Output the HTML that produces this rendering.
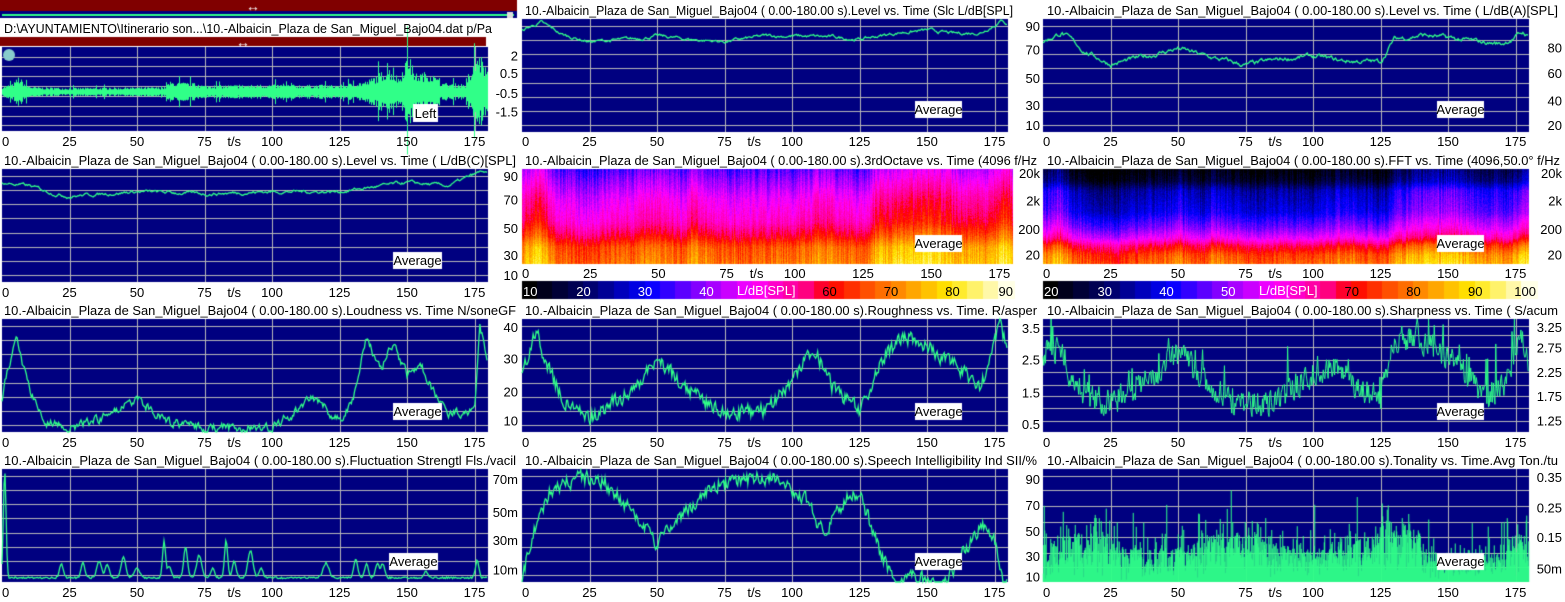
<!DOCTYPE html>
<html><head><meta charset="utf-8"><style>
html,body{margin:0;padding:0;background:#fff;width:1565px;height:602px;overflow:hidden}
#c{position:absolute;left:0;top:0}
#s{position:absolute;left:0;top:0}
text{font-family:"Liberation Sans",Arial,sans-serif;font-size:13px;fill:#000}
</style></head><body>
<canvas id="c" width="1565" height="602"></canvas>
<svg id="s" width="1565" height="602" xmlns="http://www.w3.org/2000/svg">
<g id="txt"></g>
<text x="4" y="33" textLength="488" lengthAdjust="spacingAndGlyphs">D:\AYUNTAMIENTO\Itinerario son...\10.-Albaicin_Plaza de San_Miguel_Bajo04.dat  p/Pa</text>
<text x="525" y="15" textLength="488" lengthAdjust="spacingAndGlyphs">10.-Albaicin_Plaza de San_Miguel_Bajo04 ( 0.00-180.00 s).Level vs. Time (Slc L/dB[SPL]</text>
<text x="1047" y="15" textLength="511" lengthAdjust="spacingAndGlyphs">10.-Albaicin_Plaza de San_Miguel_Bajo04 ( 0.00-180.00 s).Level vs. Time ( L/dB(A)[SPL]</text>
<text x="4" y="165" textLength="512" lengthAdjust="spacingAndGlyphs">10.-Albaicin_Plaza de San_Miguel_Bajo04 ( 0.00-180.00 s).Level vs. Time ( L/dB(C)[SPL]</text>
<text x="525" y="165" textLength="512" lengthAdjust="spacingAndGlyphs">10.-Albaicin_Plaza de San_Miguel_Bajo04 ( 0.00-180.00 s).3rdOctave vs. Time (4096 f/Hz</text>
<text x="1047" y="165" textLength="513" lengthAdjust="spacingAndGlyphs">10.-Albaicin_Plaza de San_Miguel_Bajo04 ( 0.00-180.00 s).FFT vs. Time (4096,50.0° f/Hz</text>
<text x="4" y="315" textLength="512" lengthAdjust="spacingAndGlyphs">10.-Albaicin_Plaza de San_Miguel_Bajo04 ( 0.00-180.00 s).Loudness vs. Time N/soneGF</text>
<text x="525" y="315" textLength="512" lengthAdjust="spacingAndGlyphs">10.-Albaicin_Plaza de San_Miguel_Bajo04 ( 0.00-180.00 s).Roughness vs. Time. R/asper</text>
<text x="1047" y="315" textLength="511" lengthAdjust="spacingAndGlyphs">10.-Albaicin_Plaza de San_Miguel_Bajo04 ( 0.00-180.00 s).Sharpness vs. Time ( S/acum</text>
<text x="4" y="465" textLength="512" lengthAdjust="spacingAndGlyphs">10.-Albaicin_Plaza de San_Miguel_Bajo04 ( 0.00-180.00 s).Fluctuation Strengtl Fls./vacil</text>
<text x="525" y="465" textLength="512" lengthAdjust="spacingAndGlyphs">10.-Albaicin_Plaza de San_Miguel_Bajo04 ( 0.00-180.00 s).Speech Intelligibility Ind SII/%</text>
<text x="1047" y="465" textLength="511" lengthAdjust="spacingAndGlyphs">10.-Albaicin_Plaza de San_Miguel_Bajo04 ( 0.00-180.00 s).Tonality vs. Time.Avg  Ton./tu</text>
<text x="737" y="295" style="fill:#fff">L/dB[SPL]</text>
<text x="1259" y="295" style="fill:#fff">L/dB[SPL]</text>
</svg>
<script>
var cv=document.getElementById('c'),g=cv.getContext('2d');
var seed=7;function R(){seed=(seed*16807)%2147483647;return seed/2147483647;}
var T=document.getElementById('txt'),NS='http://www.w3.org/2000/svg';
function tx(x,y,s,anc,col){var e=document.createElementNS(NS,'text');e.setAttribute('x',x);e.setAttribute('y',y);if(anc)e.setAttribute('text-anchor',anc);if(col)e.setAttribute('style','fill:'+col);e.textContent=s;T.appendChild(e);}
function box(x,y,w,h,s){g.fillStyle='#fff';g.fillRect(x,y,w,h);tx(x+w/2,y+h-4,s,'middle');}
var GREEN='#30ff88';
function interp(keys,t){for(var i=0;i<keys.length-1;i++){if(t<=keys[i+1][0]){var a=keys[i],b=keys[i+1];var f=(t-a[0])/(b[0]-a[0]||1);return a[1]+(b[1]-a[1])*f;}}return keys[keys.length-1][1];}
function series(keys,noise,n,sm){var out=[],ar=0;for(var i=0;i<n;i++){ar=ar*sm+(R()-0.5)*noise;out.push(interp(keys,i*180/n)+ar);}return out;}
function frame(x,y,w,h){g.fillStyle='#000080';g.fillRect(x,y,w,h);}
function grid(x,y,w,h,hl){g.strokeStyle='#b8b8b8';g.lineWidth=1;g.beginPath();
 for(var t=25;t<180;t+=25){var px=Math.round(x+t*w/180)+0.5;g.moveTo(px,y);g.lineTo(px,y+h);}
 hl.forEach(function(f){var py=Math.round(y+f*h)+0.5;g.moveTo(x,py);g.lineTo(x+w,py);});g.stroke();}
function xt(x,y,w){for(var t=0;t<180;t+=25){tx(x+t*w/180,y,''+t,t==0?'start':'middle');}tx(x+86*w/180,y,'t/s','middle');}
function yl(xr,y,h,labs){labs.forEach(function(l){tx(xr,y+l[1]*h+5,l[0],'end');});}
function line(x,y,w,h,d,lw){g.strokeStyle=GREEN;g.lineWidth=lw||1.3;g.beginPath();for(var i=0;i<d.length;i++){var px=x+i*w/d.length,py=y+(1-Math.max(0,Math.min(1,d[i])))*h;i?g.lineTo(px,py):g.moveTo(px,py);}g.stroke();}
var W=486,CX=[2,522,1043];
function even(n,a,b){var r=[];for(var i=0;i<n;i++)r.push(a+(b-a)*i/(n-1));return r;}
var hl8=even(8,0.06,0.94);
g.fillStyle='#800000';g.fillRect(0,0,517,11);g.fillRect(0,37,486,9);
g.fillStyle='#000080';g.fillRect(0,11,517,7);g.fillStyle=GREEN;g.fillRect(2,14,512,2);
g.fillStyle='#ddd';g.fillRect(507,12,6,6);
g.fillStyle='#fff';g.font='14px sans-serif';g.fillText('\u2194',246,11);g.fillText('\u2194',236,47);
(function(){var x=2,y=47,h=84;frame(x,y,W,h);grid(x,y,W,h,[0.12,0.23,0.34,0.46,0.58,0.7,0.82,0.93]);
 var env=[[0,.14],[4,.2],[6,.38],[9,.17],[12,.12],[25,.1],[60,.12],[62,.25],[70,.22],[75,.16],[100,.18],[125,.17],[135,.27],[143,.6],[147,.35],[150,.95],[153,.45],[158,.5],[163,.22],[172,.2],[176,.95],[180,.5]];
 g.strokeStyle=GREEN;g.lineWidth=1;g.beginPath();var cy=y+45;for(var i=0;i<W;i++){var a=interp(env,i*180/W)*(0.5+0.5*R())*42;if(R()<0.06)a*=1.7;g.moveTo(x+i+0.5,cy-a);g.lineTo(x+i+0.5,cy+a*0.95);}g.stroke();
 g.fillStyle='#8cc';g.beginPath();g.arc(9,55,6,0,7);g.fill();
 box(413,104,25,18,'Left');xt(2,146,W);yl(518,y,h,[['2',0.1],['0.5',0.31],['-0.5',0.55],['-1.5',0.77]]);})();
(function(){var x=CX[1],y=19,h=113;frame(x,y,W,h);grid(x,y,W,h,hl8);
 line(x,y,W,h,series([[0,.9],[7,.97],[15,.86],[25,.8],[40,.82],[50,.85],[62,.82],[75,.8],[90,.85],[100,.85],[115,.84],[125,.82],[140,.88],[150,.9],[160,.87],[170,.88],[178,.99],[180,.95]],0.02,480,0.8));
 box(915,101,47,17,'Average');xt(x,146,W);yl(1040,y,h,[['90',0.06],['70',0.27],['50',0.52],['30',0.76],['10',0.94]]);})();
(function(){var x=CX[2],y=19,h=113;frame(x,y,W,h);grid(x,y,W,h,hl8);
 line(x,y,W,h,series([[0,.8],[7,.88],[15,.72],[25,.6],[35,.65],[50,.74],[62,.66],[75,.59],[90,.65],[100,.67],[110,.63],[125,.62],[130,.82],[140,.86],[160,.8],[170,.78],[178,.88],[180,.84]],0.03,480,0.8));
 box(1437,101,47,17,'Average');xt(x,146,W);yl(1562,y,h,[['80',0.25],['60',0.48],['40',0.72],['20',0.94]]);})();
(function(){var x=2,y=169,h=113;frame(x,y,W,h);grid(x,y,W,h,hl8);
 line(x,y,W,h,series([[0,.88],[10,.85],[20,.78],[25,.76],[50,.8],[75,.78],[100,.8],[125,.8],[150,.88],[165,.85],[178,.98],[180,.95]],0.02,480,0.8));
 box(393,252,49,17,'Average');xt(2,297,W);yl(518,y,h,[['90',0.06],['70',0.27],['50',0.52],['30',0.76],['10',0.94]]);})();
var CM=[[0,[0,0,0]],[0.12,[0,0,100]],[0.25,[0,0,255]],[0.37,[150,0,255]],[0.47,[255,0,255]],[0.58,[255,0,130]],[0.63,[255,0,0]],[0.72,[255,90,0]],[0.8,[255,160,0]],[0.88,[255,230,0]],[1,[255,255,230]]];
function cmap(v){v=Math.max(0,Math.min(1,v));for(var i=0;i<CM.length-1;i++){if(v<=CM[i+1][0]){var a=CM[i],b=CM[i+1],f=(v-a[0])/(b[0]-a[0]);return [0,1,2].map(function(k){return Math.round(a[1][k]+(b[1][k]-a[1][k])*f);});}}return CM[CM.length-1][1];}
var loud=series([[0,.3],[6,.5],[12,.2],[25,.1],[45,.25],[50,.3],[60,.15],[62,.3],[75,.15],[100,.2],[110,.3],[125,.15],[130,.4],[140,.5],[150,.55],[160,.4],[170,.35],[177,.6],[180,.45]],0.06,491,0.6);
function spec(x,y,w,h,base,amp,ns){var img=g.createImageData(w,h);for(var i=0;i<w;i++){var L=(loud[i]-0.3)*amp,vn=(R()-0.5)*ns,vh=(R()-0.5)*ns;for(var j=0;j<h;j++){var f=j/h;var v=interp(base,f)+L+vn*(1-f)+vh*f+(R()-0.5)*0.05;var c=cmap(v),p=(j*w+i)*4;img.data[p]=c[0];img.data[p+1]=c[1];img.data[p+2]=c[2];img.data[p+3]=255;}}g.putImageData(img,x,y);}
spec(CX[1],169,491,95,[[0,.36],[0.12,.42],[0.3,.5],[0.55,.57],[0.7,.66],[0.82,.76],[1,.8]],0.45,0.1);
spec(CX[2],169,486,95,[[0,.05],[0.12,.1],[0.22,.22],[0.45,.28],[0.62,.4],[0.72,.5],[0.8,.64],[0.9,.74],[1,.78]],0.45,0.1);
function cbar(x,y,w,h,lo,hi,labs){var steps=32;for(var i=0;i<steps;i++){var c=cmap(i/(steps-1));g.fillStyle='rgb('+c+')';g.fillRect(x+Math.floor(i*w/steps),y,Math.ceil(w/steps)+1,h);}
 labs.forEach(function(v,k){var px=x+(v-lo)/(hi-lo)*w;var fr=(v-lo)/(hi-lo);tx(k==0?x+1:(k==labs.length-1?x+w-1:px),y+h-3,''+v,k==0?'start':(k==labs.length-1?'end':'middle'),fr<0.6?'#fff':'#000');});}
cbar(CX[1],281,492,18,10,90,[10,20,30,40,60,70,80,90]);
cbar(CX[2],281,494,18,20,100,[20,30,40,50,70,80,90,100]);
box(915,235,47,17,'Average');box(1437,235,47,17,'Average');
xt(CX[1],278,491);xt(CX[2],278,W);
yl(1040,169,95,[['20k',0.04],['2k',0.33],['200',0.63],['20',0.9]]);
yl(1562,169,95,[['20k',0.04],['2k',0.33],['200',0.63],['20',0.9]]);
(function(){var y=319,h=113;
 frame(2,y,W,h);grid(2,y,W,h,hl8);
 line(2,y,W,h,series([[0,.3],[5,.85],[10,.4],[15,.1],[25,.02],[40,.15],[50,.3],[60,.1],[75,.03],[100,.05],[110,.2],[115,.3],[125,.1],[130,.3],[135,.85],[140,.55],[145,.8],[150,.5],[155,.6],[160,.35],[165,.15],[175,.2],[177,.95],[180,.6]],0.07,480,0.5));
 box(393,403,49,17,'Average');xt(2,447,W);yl(518,y,h,[['40',0.07],['30',0.35],['20',0.64],['10',0.9]]);
 var x=CX[1];frame(x,y,W,h);grid(x,y,W,h,hl8);
 line(x,y,W,h,series([[0,.5],[5,.9],[10,.55],[15,.3],[25,.12],[40,.35],[50,.65],[60,.4],[75,.15],[90,.2],[100,.45],[108,.75],[115,.4],[125,.2],[135,.7],[142,.85],[150,.75],[160,.6],[170,.4],[177,.95],[180,.7]],0.12,480,0.4));
 box(915,403,47,17,'Average');xt(x,447,W);yl(1040,y,h,[['3.5',0.08],['2.5',0.36],['1.5',0.65],['0.5',0.93]]);
 x=CX[2];frame(x,y,W,h);grid(x,y,W,h,[0.06,0.14,0.25,0.36,0.47,0.58,0.68,0.79,0.9]);
 var d=series([[0,.7],[7,.72],[10,.5],[15,.35],[25,.25],[40,.5],[50,.7],[60,.45],[70,.25],[85,.25],[100,.5],[110,.6],[115,.4],[125,.3],[130,.8],[137,.85],[145,.75],[155,.55],[165,.3],[172,.45],[177,.9],[180,.6]],0.22,600,0.2);
 for(var i=0;i<d.length;i++)if(R()<0.08)d[i]+=R()*0.4;line(x,y,W,h,d,1);
 box(1437,403,47,17,'Average');xt(x,447,W);yl(1562,y,h,[['3.25',0.07],['2.75',0.25],['2.25',0.47],['1.75',0.68],['1.25',0.9]]);
})();
(function(){var y=469,h=113;
 frame(2,y,W,h);grid(2,y,W,h,hl8);
 var bumps=[[1,.95,.7],[22,.12,1],[30,.13,1],[36,.15,1.2],[39,.12,1],[45,.18,1.2],[50,.08,1.5],[60,.32,.8],[62,.1,1],[68,.27,1],[73,.2,1.3],[78,.08,1],[83,.33,.8],[86,.15,1],[92,.24,1.3],[96,.08,1],[120,.13,1.5],[131,.16,1],[135,.12,1],[139,.12,1],[141,.12,1],[157,.06,1],[176,.15,.9]];
 var d=[];for(var i=0;i<480;i++){var t=i*180/480,v=0.03+R()*0.015;bumps.forEach(function(b){v+=b[1]*Math.exp(-Math.pow((t-b[0])/b[2],2));});d.push(v);}
 line(2,y,W,h,d);box(389,553,49,17,'Average');xt(2,597,W);yl(518,y,h,[['70m',0.09],['50m',0.38],['30m',0.63],['10m',0.89]]);
 var x=CX[1];frame(x,y,W,h);grid(x,y,W,h,hl8);
 line(x,y,W,h,series([[0,.0],[3,.35],[10,.8],[20,.92],[30,.9],[40,.65],[50,.35],[55,.5],[70,.85],[80,.9],[95,.92],[105,.75],[112,.4],[120,.75],[125,.8],[132,.3],[138,0],[148,.05],[155,-0.05],[162,.2],[170,.5],[175,.4],[178,0],[180,0]],0.12,480,0.4));
 box(915,553,47,17,'Average');xt(x,597,W);yl(1040,y,h,[['90',0.09],['70',0.32],['50',0.55],['30',0.77],['10',0.95]]);
 x=CX[2];frame(x,y,W,h);grid(x,y,W,h,[0.06,0.19,0.33,0.47,0.6,0.74,0.87]);
 g.strokeStyle=GREEN;g.lineWidth=1;g.beginPath();for(var i=0;i<W*2;i++){var t=i*90/W;var b=0.36+0.08*Math.sin(t/9)+(t>125&&t<140?0.12:0)-(t>140&&t<170?0.1:0);var v=b*Math.sqrt(R())+(R()<0.3?R()*0.2:0);if(R()<0.04)v+=R()*0.45;var px=x+i/2+0.25;g.moveTo(px,y+h);g.lineTo(px,y+h-Math.min(1,v)*h);}g.stroke();
 box(1437,553,47,17,'Average');xt(x,597,W);yl(1562,y,h,[['0.35',0.07],['0.25',0.34],['0.15',0.6],['50m',0.88]]);
})();
</script>
</body></html>
